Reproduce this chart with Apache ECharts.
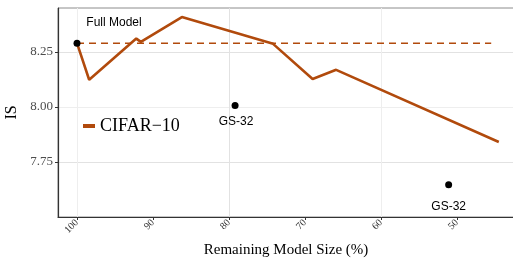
<!DOCTYPE html>
<html>
<head>
<meta charset="utf-8">
<script src="https://cdn.jsdelivr.net/npm/echarts@6/dist/echarts.min.js"></script>
<style>
  html, body { margin: 0; padding: 0; background: #fff; }
  #chart { width: 513px; height: 258px; }
</style>
</head>
<body>
<div id="chart"></div>
<script>
  // remaining model size (%) and IS for the pruned CIFAR-10 curve
  var modelSize = [100, 98.4, 92.2, 91.6, 86.2, 74.2, 69.0, 65.9, 44.5];
  var isScore = [8.29, 8.124, 8.311, 8.296, 8.409, 8.287, 8.127, 8.169, 7.841];

  // full model reference line
  var refSize = [100, 45.5];
  var refScore = 8.29;

  // black reference points
  var pointSize = [100, 79.2, 51.1];
  var pointScore = [8.29, 8.007, 7.647];
  var pointText = ['Full Model', 'GS-32', 'GS-32'];

  var xTicks = [50, 60, 70, 80, 90, 100];
  var yTicks = [7.75, 8.00, 8.25];

  var lineColor = '#B14A0C';
  var serif = '"Liberation Serif", "DejaVu Serif", serif';
  var sans = '"Liberation Sans", Arial, sans-serif';

  var chartDom = document.getElementById('chart');
  var chart = echarts.init(chartDom);

  var curveData = modelSize.map(function (v, i) { return [v, isScore[i]]; });
  var refData = refSize.map(function (v) { return [v, refScore]; });

  // label offsets per point (Full Model sits up-right, GS-32 below)
  var labelOffsets = [[37, -21], [1, 16], [0, 22]];
  var pointData = pointSize.map(function (v, i) {
    return {
      value: [v, pointScore[i]],
      label: {
        show: true,
        formatter: pointText[i],
        position: 'inside',
        offset: labelOffsets[i],
        color: '#000',
        fontFamily: sans,
        fontSize: 12
      }
    };
  });

  var option = {
    animation: false,
    grid: {
      left: 58,
      right: -1,
      top: 8,
      bottom: 41,
      containLabel: false,
      outerBoundsMode: 'none',
      show: true,
      borderColor: '#8c8c8c',
      borderWidth: 1,
      backgroundColor: '#fff'
    },
    legend: {
      data: ['CIFAR\u221210'],
      left: 78,
      top: 112,
      itemWidth: 12,
      itemHeight: 4,
      icon: 'rect',
      textStyle: { fontFamily: serif, fontSize: 18, color: '#000' }
    },
    xAxis: {
      type: 'value',
      inverse: true,
      min: 42.5,
      max: 102.5,
      interval: 2.5,
      name: 'Remaining Model Size (%)',
      nameLocation: 'middle',
      nameGap: 19,
      nameTextStyle: { fontFamily: serif, fontSize: 15, color: '#000' },
      axisLine: { show: true, lineStyle: { color: '#333', width: 1.2 } },
      axisTick: { show: true, customValues: xTicks, length: 3, lineStyle: { color: '#333' } },
      axisLabel: {
        customValues: xTicks,
        rotate: 45,
        margin: 4,
        fontFamily: serif,
        fontSize: 10,
        color: '#333'
      },
      splitLine: {
        show: true,
        lineStyle: {
          color: ['rgba(0,0,0,0)', '#eeeeee', 'rgba(0,0,0,0)', '#e2e2e2'],
          width: 1
        }
      }
    },
    yAxis: {
      type: 'value',
      min: 7.5,
      max: 8.45,
      interval: 0.125,
      name: 'IS',
      nameLocation: 'middle',
      nameGap: 37,
      nameTextStyle: { fontFamily: serif, fontSize: 16, color: '#000' },
      axisLine: { show: true, lineStyle: { color: '#333', width: 1.2 } },
      axisTick: { show: true, customValues: yTicks, length: 3, lineStyle: { color: '#333' } },
      axisLabel: {
        customValues: yTicks,
        margin: 5,
        fontFamily: serif,
        fontSize: 13,
        color: '#4d4d4d',
        formatter: function (v) { return v.toFixed(2); }
      },
      splitLine: {
        show: true,
        lineStyle: { color: ['#e2e2e2', '#eeeeee'], width: 1 }
      }
    },
    series: [
      {
        name: 'CIFAR\u221210',
        type: 'line',
        data: curveData,
        showSymbol: false,
        lineStyle: { color: lineColor, width: 2.6 },
        itemStyle: { color: lineColor },
        z: 3
      },
      {
        name: 'ref',
        type: 'line',
        data: refData,
        showSymbol: false,
        lineStyle: { color: lineColor, width: 1.5, type: [7, 5] },
        z: 2
      },
      {
        name: 'points',
        type: 'scatter',
        data: pointData,
        symbolSize: 7,
        itemStyle: { color: '#000', opacity: 1 },
        z: 4
      }
    ]
  };

  chart.setOption(option);
</script>
</body>
</html>
